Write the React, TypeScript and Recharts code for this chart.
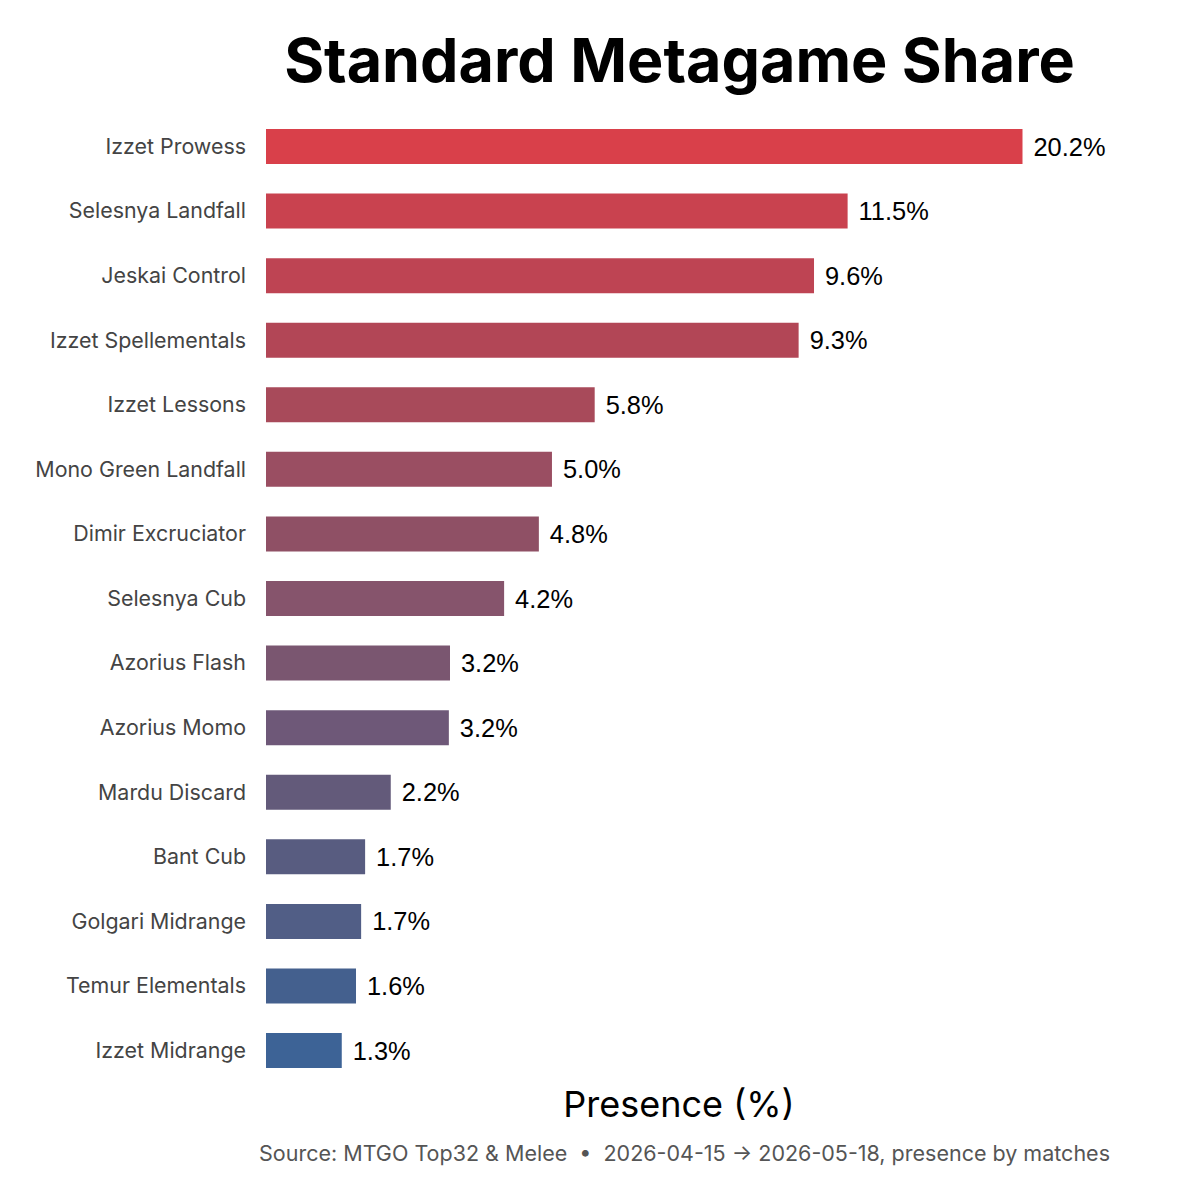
import React from "react";
import { BarChart, Bar, XAxis, YAxis, Cell, LabelList } from "recharts";

const archetypes = [
  "Izzet Prowess",
  "Selesnya Landfall",
  "Jeskai Control",
  "Izzet Spellementals",
  "Izzet Lessons",
  "Mono Green Landfall",
  "Dimir Excruciator",
  "Selesnya Cub",
  "Azorius Flash",
  "Azorius Momo",
  "Mardu Discard",
  "Bant Cub",
  "Golgari Midrange",
  "Temur Elementals",
  "Izzet Midrange",
];

// printed presence labels (%)
const presence = [20.2, 11.5, 9.6, 9.3, 5.8, 5.0, 4.8, 4.2, 3.2, 3.2, 2.2, 1.7, 1.7, 1.6, 1.3];

// drawn bar lengths (axis units, %)
const barLength = [13.28, 10.21, 9.62, 9.35, 5.77, 5.02, 4.79, 4.18, 3.23, 3.21, 2.19, 1.74, 1.67, 1.58, 1.33];

const barColors = [
  "#d9404a",
  "#c9424f",
  "#be4453",
  "#b24656",
  "#a84a5a",
  "#9a4e62",
  "#8f5065",
  "#86546c",
  "#7a5670",
  "#6e5878",
  "#635a7a",
  "#585c80",
  "#515e86",
  "#44608e",
  "#3d6396",
];

const data = archetypes.map((name, i) => ({
  name,
  value: barLength[i],
  label: presence[i].toFixed(1) + "%",
}));

export default function App() {
  return (
    <div
      style={{
        position: "absolute",
        left: 0,
        top: 0,
        width: 1200,
        height: 1200,
        background: "#ffffff",
        fontFamily: "Inter, sans-serif",
      }}
    >
      <div
        style={{
          position: "absolute",
          left: 0,
          width: 1359,
          top: 21,
          textAlign: "center",
          fontSize: 61,
          fontWeight: 700,
          color: "#000",
          lineHeight: "78px",
        }}
      >
        Standard Metagame Share
      </div>
      <div style={{ position: "absolute", left: 0, top: 0 }}>
        <BarChart
          width={1200}
          height={1200}
          data={data}
          layout="vertical"
          margin={{ top: 114, right: 108, bottom: 83.4, left: 0 }}
        >
          <XAxis
            type="number"
            domain={[0, 14.5]}
            allowDataOverflow
            tick={false}
            axisLine={false}
            tickLine={false}
            height={34}
            label={{
              value: "Presence (%)",
              position: "insideBottom",
              offset: 0,
              fontSize: 36,
              fill: "#000",
              fontFamily: "Inter, sans-serif",
            }}
          />
          <YAxis
            type="category"
            dataKey="name"
            width={266}
            axisLine={false}
            tickLine={false}
            tickSize={0}
            tickMargin={20}
            interval={0}
            tick={{ fontSize: 21.4, fill: "#444", fontFamily: "Inter, sans-serif" }}
          />
          <Bar dataKey="value" barSize={35} isAnimationActive={false}>
            {data.map((d, i) => (
              <Cell key={d.name} fill={barColors[i]} />
            ))}
            <LabelList
              dataKey="label"
              position="right"
              offset={11}
              fill="#000"
              fontSize={25.4}
              fontFamily="'Liberation Sans', Arial, sans-serif"
            />
          </Bar>
        </BarChart>
      </div>
      <div
        style={{
          position: "absolute",
          left: 0,
          width: 1369,
          top: 1138,
          textAlign: "center",
          fontSize: 21.5,
          color: "#555",
          lineHeight: "30px",
        }}
      >
        Source: MTGO Top32 &amp; Melee&nbsp;&nbsp;•&nbsp;&nbsp;2026-04-15 → 2026-05-18, presence by matches
      </div>
    </div>
  );
}
